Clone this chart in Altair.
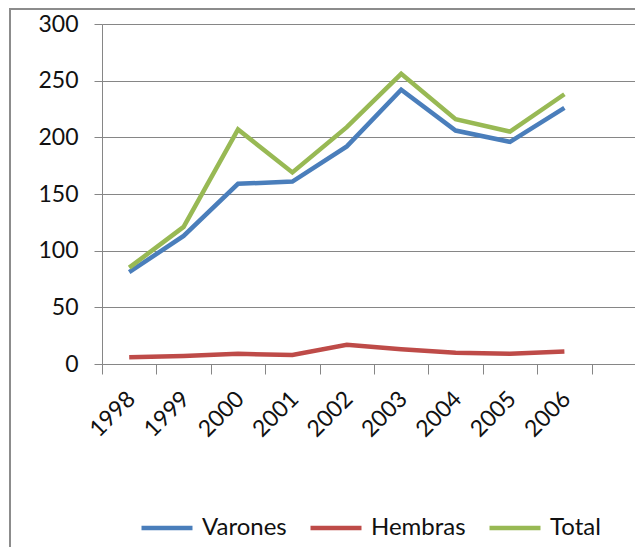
import altair as alt
import pandas as pd

years = ["1998", "1999", "2000", "2001", "2002", "2003", "2004", "2005", "2006"]
varones = [81, 113, 159, 161, 192, 242, 206, 196, 226]
hembras = [6, 7, 9, 8, 17, 13, 10, 9, 11]
total = [85, 121, 207, 169, 209, 256, 216, 205, 238]
series = ["Varones", "Hembras", "Total"]
colors = ["#4A7EBB", "#BE4B48", "#98B954"]
y_ticks = [0, 50, 100, 150, 200, 250, 300]

rows = []
for name, vals in zip(series, [varones, hembras, total]):
    for yr, v in zip(years, vals):
        rows.append({"year": yr, "value": v, "serie": name})
df = pd.DataFrame(rows)

W, H = 544, 340
FONT = "Lato"

base = alt.Chart(pd.DataFrame({"a": [0]}))
frame_left = base.mark_rule(color="#8C8C8C", strokeWidth=2, clip=False).encode(
    x=alt.value(-92), y=alt.value(-15), y2=alt.value(H + 184)
)
frame_top = base.mark_rule(color="#8C8C8C", strokeWidth=2, clip=False).encode(
    x=alt.value(-93), x2=alt.value(W - 10), y=alt.value(-15)
)

lines = alt.Chart(df).mark_line(strokeWidth=4.5).encode(
    x=alt.X("year:N",
            scale=alt.Scale(domain=years + [""], type="band", paddingInner=0, paddingOuter=0),
            bandPosition=0.5,
            axis=alt.Axis(title=None, labelAngle=-45, labelAlign="right", labelBaseline="middle",
                          tickBand="extent", tickSize=10, labelPadding=21, labelOffset=2,
                          labelFont=FONT, labelFontSize=23, labelColor="#111111",
                          domainColor="#868686", tickColor="#868686", grid=False)),
    y=alt.Y("value:Q", scale=alt.Scale(domain=[0, 300], nice=False),
            axis=alt.Axis(title=None, values=y_ticks, tickSize=8, labelPadding=16,
                          labelFont=FONT, labelFontSize=23, labelColor="#111111",
                          domainColor="#868686", tickColor="#868686",
                          gridColor="#868686", gridWidth=1)),
    color=alt.Color("serie:N", sort=series,
                    scale=alt.Scale(domain=series, range=colors),
                    legend=alt.Legend(title=None, orient="none", direction="horizontal",
                                      legendX=37, legendY=476, symbolType="stroke",
                                      symbolSize=2600, symbolStrokeWidth=4.5,
                                      labelFont=FONT, labelFontSize=24, labelColor="#111111",
                                      labelOffset=7, columnPadding=14)),
    order=alt.Order("year:N")
)

chart = alt.layer(frame_left, frame_top, lines).properties(
    width=W, height=H,
    autosize=alt.AutoSizeParams(type="none"),
    padding={"left": 94, "top": 16, "right": -11, "bottom": 183},
).configure_view(strokeWidth=0, strokeOpacity=0).configure(background="white")

chart.save("out.html", embed_options={"renderer": "svg", "actions": False})
